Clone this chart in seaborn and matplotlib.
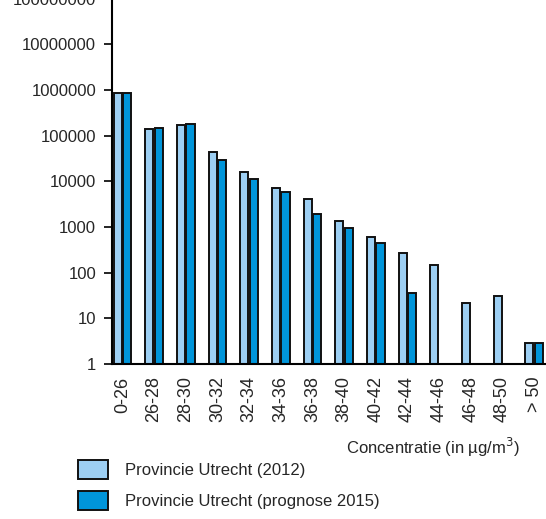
import pandas as pd
import seaborn as sns
import matplotlib.pyplot as plt

categories = ["0-26", "26-28", "28-30", "30-32", "32-34", "34-36", "36-38",
              "38-40", "40-42", "42-44", "44-46", "46-48", "48-50", "> 50"]
utrecht_2012 = [850000, 142000, 168000, 43000, 16000, 7000, 4100,
                1330, 610, 265, 145, 22, 31, 2.9]
utrecht_2015 = [850000, 150000, 183000, 30000, 11000, 5900, 1950,
                970, 450, 35, 1, 1, 1, 2.9]
series = ["Provincie Utrecht (2012)", "Provincie Utrecht (prognose 2015)"]

df = pd.DataFrame({
    "cat": categories * 2,
    "value": utrecht_2012 + utrecht_2015,
    "series": [series[0]] * len(categories) + [series[1]] * len(categories),
})

sns.set_style("white")
plt.rcParams["font.family"] = ["Liberation Sans", "DejaVu Sans"]

fig = plt.figure(figsize=(5.46, 5.19), dpi=100)
ax = fig.add_axes([0.2051, 0.2987, 0.795, 0.7038])

sns.barplot(data=df, x="cat", y="value", hue="series", ax=ax,
            palette=["#9dcff3", "#0095da"], saturation=1, width=0.6, gap=0.15,
            edgecolor="#111111", linewidth=1.4, legend=True)
ax.set_yscale("log")
ax.set_ylim(1, 1e8)
ax.set_xlim(-0.33, 13.38)
ax.set_yticks([1, 10, 100, 1000, 10000, 100000, 1000000, 10000000, 100000000])
ax.set_yticklabels(["1", "10", "100", "1000", "10000", "100000", "1000000",
                    "10000000", "100000000"])
ax.yaxis.set_minor_locator(plt.NullLocator())
ax.tick_params(axis="y", length=6, width=1.2, pad=5.5, labelsize=12, color="black", left=True)
ax.tick_params(axis="x", length=0, pad=9, labelsize=13, rotation=90)
ax.set_xlabel("")
ax.set_ylabel("")
for s in ["top", "right"]:
    ax.spines[s].set_visible(False)
for s in ["left", "bottom"]:
    ax.spines[s].set_color("black")
    ax.spines[s].set_linewidth(1.5)

handles, labels = ax.get_legend_handles_labels()
ax.get_legend().remove()
fig.legend(handles, labels, loc="upper left", bbox_to_anchor=(0.1429, 0.1137),
           frameon=False, fontsize=12, handlelength=1.8, handleheight=1.4,
           handletextpad=1.0, labelspacing=0.7, borderpad=0, borderaxespad=0)

fig.text(520 / 546, 0.137, "Concentratie (in µg/m$^3$)", ha="right", va="center",
         fontsize=12)

fig.savefig("out.png", dpi=100)
